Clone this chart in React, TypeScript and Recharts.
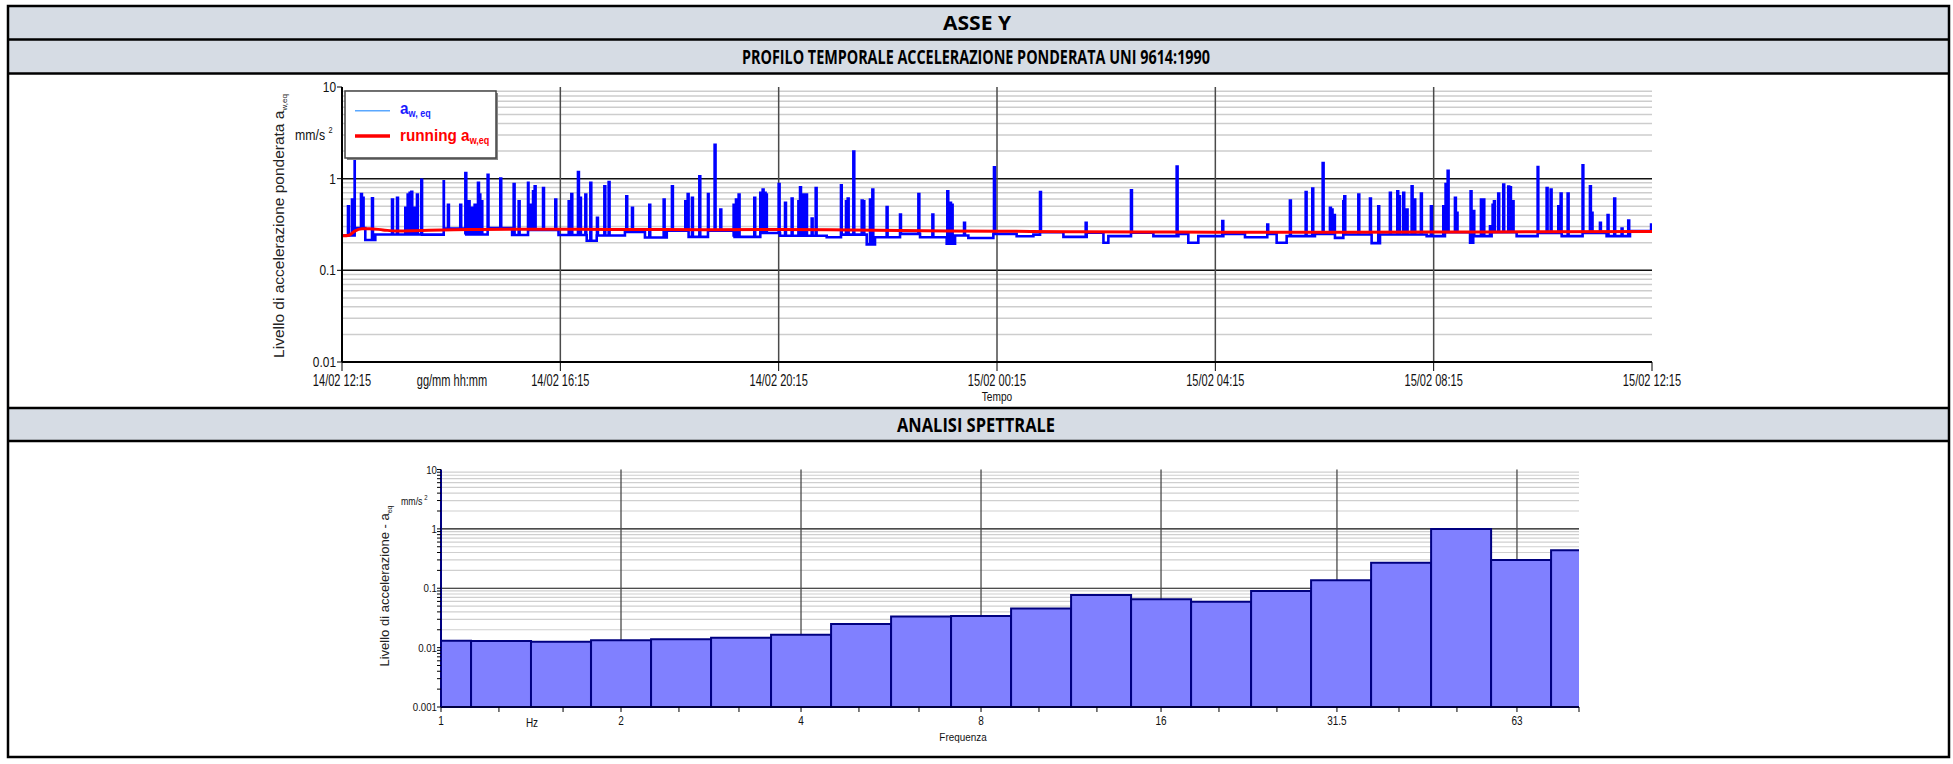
import React from 'react';
import { LineChart, Line, XAxis, YAxis, CartesianGrid, BarChart, Bar } from 'recharts';

const FONT = '"Liberation Sans", Arial, sans-serif';
const HFONT = '"Open Sans", "Noto Sans", sans-serif';

// ---------------- time profile (minutes from 14/02 12:15) ----------------
const timeTicks = [0, 240, 480, 720, 960, 1200, 1440];
const timeTickLabels = ['14/02 12:15', '14/02 16:15', '14/02 20:15', '15/02 00:15', '15/02 04:15', '15/02 08:15', '15/02 12:15'];

const awBaseLevels: [number, number][] = [
  [0, 0.24], [14, 0.29], [25.6, 0.214], [36.6, 0.246], [88, 0.245], [112, 0.285], [135.6, 0.246],
  [161, 0.29], [187, 0.243], [205, 0.275], [238, 0.243], [269, 0.21], [280, 0.24], [311, 0.262],
  [333, 0.228], [357, 0.27], [381, 0.232], [403, 0.27], [430.5, 0.232], [460, 0.255], [481.5, 0.238],
  [532.8, 0.23], [549.3, 0.245], [576.8, 0.192], [585.9, 0.23], [613.4, 0.25], [635.4, 0.23],
  [664.7, 0.195], [673.9, 0.24], [688.5, 0.225], [716, 0.25], [741.6, 0.235], [760, 0.245],
  [767.3, 0.26], [793, 0.232], [818.6, 0.257], [837, 0.2], [842.4, 0.236], [867.3, 0.257],
  [891.9, 0.236], [919.4, 0.25], [930.3, 0.2], [941.3, 0.236], [968.8, 0.25], [992.6, 0.23],
  [1017.1, 0.25], [1027.4, 0.2], [1038.4, 0.236], [1069.5, 0.25], [1091.5, 0.226], [1100.7, 0.246],
  [1131.8, 0.198], [1141, 0.246], [1192.3, 0.236], [1212.4, 0.26], [1240, 0.2], [1243.5, 0.236],
  [1263.7, 0.26], [1291.2, 0.236], [1315, 0.255], [1340.7, 0.236], [1364.5, 0.255], [1390.1, 0.236],
  [1415.8, 0.268],
];

const awSpikes: [number, number][] = [
  [6.6, 0.5], [11, 0.59], [13.9, 1.68], [20.9, 0.68], [22.7, 0.62], [33, 0.61], [55, 0.59], [60.5, 0.62],
  [69.6, 0.48], [72.2, 0.67], [74.4, 0.7], [76.2, 0.72], [78.8, 0.48], [82.4, 0.67], [87.2, 0.975],
  [111.8, 0.935], [116.5, 0.52], [130, 0.52], [135.6, 1.15], [139.2, 0.567], [142.9, 0.48], [145.8, 0.52],
  [149.5, 0.9], [151, 0.67], [153.2, 0.567], [160.1, 1.105], [174, 1.0], [188.7, 0.875], [194.2, 0.567],
  [204.5, 0.9], [207, 0.52], [210, 0.73], [211.8, 0.826], [221, 0.79], [234.5, 0.59], [249.2, 0.567],
  [252.1, 0.68], [259.4, 1.18], [261.6, 0.62], [267.5, 0.67], [273, 0.9], [280.3, 0.374], [288.4, 0.826],
  [293.1, 0.92], [312.5, 0.643], [318.8, 0.48], [337.8, 0.52], [353.6, 0.59], [362.7, 0.826], [377.4, 0.567],
  [380, 0.68], [384.7, 0.617], [392.8, 1.06], [402.3, 0.68], [409.6, 2.34], [415.9, 0.46], [430.5, 0.52],
  [433.1, 0.59], [436, 0.67], [453.2, 0.617], [459.8, 0.7], [462.4, 0.759], [464.6, 0.7], [466, 0.67],
  [480, 0.875], [487, 0.544], [494.3, 0.606], [501.7, 0.567], [503.5, 0.805], [505.3, 0.577], [507.1, 0.67],
  [510.1, 0.67], [516.3, 0.367], [520.7, 0.792], [548.5, 0.846], [554, 0.567], [555.9, 0.606], [562.1, 1.98],
  [571.3, 0.577], [573.1, 0.567], [580.4, 0.59], [583, 0.759], [598.7, 0.49], [613.4, 0.406], [633.6, 0.681],
  [649, 0.406], [665.4, 0.728], [668.4, 0.544], [670.2, 0.52], [683.8, 0.33], [716.7, 1.33], [767.3, 0.716],
  [817.5, 0.33], [867.3, 0.747], [917.5, 1.36], [967.7, 0.344], [1017.1, 0.316], [1042, 0.577],
  [1059.3, 0.716], [1066.6, 0.778], [1078, 1.48], [1086, 0.48], [1087.8, 0.46], [1090.4, 0.4],
  [1100.7, 0.567], [1101.8, 0.643], [1117.2, 0.67], [1130, 0.606], [1139.1, 0.5], [1151.9, 0.699],
  [1160, 0.728], [1161.9, 0.643], [1166.6, 0.699], [1170.3, 0.46], [1175.8, 0.826], [1178.7, 0.59],
  [1186, 0.687], [1197, 0.5], [1210.6, 0.5], [1213.1, 0.875], [1215.4, 1.22], [1223.4, 0.617],
  [1225.2, 0.424], [1240.6, 0.728], [1243.6, 0.442], [1252, 0.59], [1254.6, 0.59], [1261.9, 0.303],
  [1264.8, 0.52], [1266.3, 0.567], [1271, 0.687], [1276.5, 0.861], [1282, 0.819], [1283.9, 0.805],
  [1286.8, 0.567], [1314.3, 1.34], [1324.2, 0.792], [1328.6, 0.759], [1337, 0.5], [1339.6, 0.687],
  [1347.3, 0.687], [1363.7, 1.4], [1371.8, 0.826], [1373.6, 0.424], [1382.8, 0.33], [1391.2, 0.4],
  [1398.5, 0.606], [1406.6, 0.286], [1413.9, 0.35], [1439, 0.316],
];

const runningAw: [number, number][] = [
  [0, 0.238], [8, 0.242], [14, 0.268], [22, 0.284], [30, 0.285], [45, 0.276], [60, 0.268], [80, 0.27],
  [110, 0.276], [150, 0.279], [200, 0.281], [260, 0.28], [330, 0.279], [400, 0.278], [480, 0.279],
  [560, 0.275], [640, 0.27], [720, 0.267], [800, 0.264], [880, 0.262], [960, 0.261], [1080, 0.261],
  [1200, 0.262], [1320, 0.263], [1440, 0.266],
];

const levelTicks = [0.01, 0.1, 1, 10];
const levelMajor = [0.1, 1];
const levelMinor = [0.02, 0.03, 0.04, 0.05, 0.06, 0.07, 0.08, 0.09, 0.2, 0.3, 0.4, 0.5, 0.6, 0.7, 0.8, 0.9, 2, 3, 4, 5, 6, 7, 8, 9];

// ---------------- spectrum (third-octave bands) ----------------
const bandCenters = [1, 1.26, 1.587, 2, 2.52, 3.175, 4, 5.04, 6.35, 8, 10.08, 12.7, 16, 20.16, 25.4, 32, 40.32, 50.8, 64, 80.63];
const spectrumLevels = [0.0131, 0.01295, 0.0126, 0.01334, 0.01384, 0.01473, 0.01655, 0.0251, 0.0333, 0.0342, 0.0454, 0.0771, 0.0653, 0.0594, 0.09, 0.136, 0.27, 0.995, 0.3, 0.436];
const freqLabelTicks = [1, 2, 4, 8, 16, 31.5, 63];
const freqAllTicks = [1, 1.25, 1.6, 2, 2.5, 3.15, 4, 5, 6.3, 8, 10, 12.5, 16, 20, 25, 31.5, 40, 50, 63, 80];
const specYLabelTicks = [0.001, 0.01, 0.1, 1, 10];
const specYAllTicks = [0.001, 0.002, 0.003, 0.004, 0.005, 0.006, 0.007, 0.008, 0.009, 0.01, 0.02, 0.03, 0.04, 0.05, 0.06, 0.07, 0.08, 0.09, 0.1, 0.2, 0.3, 0.4, 0.5, 0.6, 0.7, 0.8, 0.9, 1, 2, 3, 4, 5, 6, 7, 8, 9, 10];
const specMinor = specYAllTicks.filter((v) => !specYLabelTicks.includes(v));
const specMajor = [0.01, 0.1, 1];
const specVertical = [2, 4, 8, 16, 31.5, 63];

// ---------------- build tables ----------------
const baseAt = (t: number) => {
  let v = awBaseLevels[0][1];
  for (const [s, val] of awBaseLevels) if (s <= t) v = val;
  return v;
};

type Pt = { t: number; aw?: number; run?: number; o: number };
const profileData: Pt[] = [
  ...awBaseLevels.map(([t, v]) => ({ t, aw: v, o: 0 })),
  ...awSpikes.flatMap(([t, v]) => [
    { t, aw: v, o: 1 },
    { t: Math.min(t + 1, 1440), aw: baseAt(t + 1), o: 2 },
  ]),
  { t: 1440, aw: baseAt(1440), o: 4 },
  ...runningAw.map(([t, v]) => ({ t, run: v, o: 3 })),
].sort((a, b) => a.t - b.t || a.o - b.o);

const spectrumData = bandCenters.map((f, i) => ({ f, level: spectrumLevels[i] }));

// ---------------- ticks ----------------
const TimeTick = (p: any) => {
  const i = timeTicks.indexOf(p.payload.value);
  return (
    <g transform={`translate(${p.x},${p.y}) scale(0.69,1)`}>
      <text x={0} y={0} dy={12.7} textAnchor="middle" fontSize={16} fontFamily={FONT} fill="#111">
        {timeTickLabels[i]}
      </text>
    </g>
  );
};

const LevelTick = (p: any) => (
  <g transform={`translate(${p.x},${p.y}) scale(0.85,1)`}>
    <text x={0} y={0} dy={5} textAnchor="end" fontSize={14} fontFamily={FONT} fill="#111">
      {String(p.payload.value)}
    </text>
  </g>
);

const FreqTick = (p: any) => {
  const v = p.payload.value;
  if (!freqLabelTicks.includes(v)) return <g />;
  return (
    <g transform={`translate(${p.x},${p.y}) scale(0.8,1)`}>
      <text x={0} y={0} dy={11} textAnchor="middle" fontSize={12.5} fontFamily={FONT} fill="#111">
        {String(v)}
      </text>
    </g>
  );
};

const SpecYTick = (p: any) => {
  const v = p.payload.value;
  if (!specYLabelTicks.includes(v)) return <g />;
  return (
    <g transform={`translate(${p.x},${p.y}) scale(0.88,1)`}>
      <text x={0} y={0} dy={4} textAnchor="end" fontSize={11} fontFamily={FONT} fill="#111">
        {String(v)}
      </text>
    </g>
  );
};

// ---------------- charts ----------------
const ProfileChart = () => (
  <LineChart width={1953} height={320} data={profileData} margin={{ top: 11, right: 301, bottom: 4, left: 302 }}>
    <CartesianGrid horizontalValues={levelMinor} vertical={false} stroke="#cdcdcd" strokeWidth={1.5} />
    <CartesianGrid horizontalValues={levelMajor} vertical={false} stroke="#111" strokeWidth={1.5} />
    <CartesianGrid verticalValues={timeTicks.slice(1, -1)} horizontal={false} stroke="#4a4a4a" strokeWidth={1.5} />
    <Line dataKey="aw" type="stepAfter" stroke="#0000ff" strokeWidth={2.6} dot={false} connectNulls isAnimationActive={false} />
    <Line dataKey="run" type="monotone" stroke="#ff0000" strokeWidth={3} dot={false} connectNulls isAnimationActive={false} />
    <XAxis
      dataKey="t"
      type="number"
      domain={[0, 1440]}
      allowDataOverflow
      ticks={timeTicks}
      interval={0}
      tick={<TimeTick />}
      tickSize={9}
      tickMargin={2}
      height={30}
      axisLine={{ stroke: '#000', strokeWidth: 2 }}
      tickLine={{ stroke: '#000', strokeWidth: 1 }}
    />
    <XAxis xAxisId="top" orientation="top" type="number" domain={[0, 1440]} tick={false} tickLine={false} height={0} axisLine={{ stroke: '#222', strokeWidth: 2 }} />
    <YAxis
      type="number"
      scale="log"
      domain={[0.01, 10]}
      allowDataOverflow
      ticks={levelTicks}
      interval={0}
      tick={<LevelTick />}
      tickSize={5}
      tickMargin={1}
      width={40}
      axisLine={{ stroke: '#000', strokeWidth: 2 }}
      tickLine={{ stroke: '#000', strokeWidth: 1 }}
    />
    <YAxis yAxisId="right" orientation="right" type="number" scale="log" domain={[0.01, 10]} allowDataOverflow tick={false} tickLine={false} width={0} axisLine={{ stroke: '#222', strokeWidth: 2 }} />
  </LineChart>
);

const SpectrumChart = () => (
  <BarChart width={1953} height={300} data={spectrumData} margin={{ top: 28.5, right: 374, bottom: 4, left: 401 }} barCategoryGap={0} barGap={0}>
    <CartesianGrid horizontalValues={specMinor} vertical={false} stroke="#cfcfcf" strokeWidth={1.2} />
    <CartesianGrid horizontalValues={specMajor} vertical={false} stroke="#111" strokeWidth={1.2} />
    <CartesianGrid verticalValues={specVertical} horizontal={false} stroke="#4a4a4a" strokeWidth={1.3} />
    <Bar dataKey="level" fill="#8080ff" stroke="#000080" strokeWidth={2} isAnimationActive={false} />
    <XAxis
      dataKey="f"
      type="number"
      scale="log"
      domain={[1, 80]}
      allowDataOverflow
      ticks={freqAllTicks}
      interval={0}
      tick={<FreqTick />}
      tickSize={5}
      tickMargin={2}
      height={30}
      axisLine={{ stroke: '#000040', strokeWidth: 2 }}
      tickLine={{ stroke: '#000', strokeWidth: 1 }}
    />
    <XAxis xAxisId="top" orientation="top" type="number" scale="log" domain={[1, 80]} allowDataOverflow tick={false} tickLine={false} height={0} axisLine={{ stroke: '#000080', strokeWidth: 2 }} />
    <YAxis
      type="number"
      scale="log"
      domain={[0.001, 10]}
      allowDataOverflow
      ticks={specYAllTicks}
      interval={0}
      tick={<SpecYTick />}
      tickSize={4}
      tickMargin={0}
      width={40}
      axisLine={{ stroke: '#000080', strokeWidth: 2 }}
      tickLine={{ stroke: '#000', strokeWidth: 1 }}
    />
    <YAxis yAxisId="right" orientation="right" type="number" scale="log" domain={[0.001, 10]} allowDataOverflow tick={false} tickLine={false} width={0} axisLine={{ stroke: '#000080', strokeWidth: 2 }} />
  </BarChart>
);

// ---------------- frame, headers, labels ----------------
const Overlay = () => (
  <svg width={1953} height={764} style={{ position: 'absolute', left: 0, top: 0, pointerEvents: 'none' }}>
    <rect x={8} y={6} width={1941} height={33.5} fill="#D6DCE4" />
    <rect x={8} y={39.5} width={1941} height={34} fill="#D6DCE4" />
    <rect x={8} y={408} width={1941} height={33} fill="#D6DCE4" />
    <g stroke="#000" strokeWidth={2.5}>
      <line x1={8} y1={39.5} x2={1949} y2={39.5} />
      <line x1={8} y1={73.5} x2={1949} y2={73.5} />
      <line x1={8} y1={408} x2={1949} y2={408} />
      <line x1={8} y1={441} x2={1949} y2={441} />
      <rect x={8} y={6} width={1941} height={751} fill="none" />
    </g>
    <g fontFamily={HFONT} fontWeight="bold" fill="#000" fontSize={19.5} textAnchor="middle">
      <text x={977} y={29.5} textLength={68} lengthAdjust="spacingAndGlyphs">ASSE Y</text>
      <text x={976} y={63.5} textLength={468} lengthAdjust="spacingAndGlyphs">PROFILO TEMPORALE ACCELERAZIONE PONDERATA UNI 9614:1990</text>
      <text x={976} y={431.5} textLength={158} lengthAdjust="spacingAndGlyphs">ANALISI SPETTRALE</text>
    </g>

    {/* profile chart labels */}
    <text transform="translate(284,226) rotate(-90)" textAnchor="middle" fontSize={15.5} fontFamily={FONT} fill="#222">
      Livello di accelerazione ponderata a<tspan fontSize={8} dy={3}>w,eq</tspan>
    </text>
    <g transform="translate(295,140) scale(0.82,1)" fontFamily={FONT} fill="#111">
      <text x={0} y={0} fontSize={15}>mm/s</text>
      <text x={41} y={-7} fontSize={9}>2</text>
    </g>
    <g transform="translate(452,373) scale(0.69,1)">
      <text x={0} y={0} dy={12.7} textAnchor="middle" fontSize={16} fontFamily={FONT} fill="#111">gg/mm hh:mm</text>
    </g>
    <g transform="translate(997,400.5) scale(0.78,1)">
      <text x={0} y={0} textAnchor="middle" fontSize={13} fontFamily={FONT} fill="#111">Tempo</text>
    </g>

    {/* legend */}
    <rect x={347} y={93} width={151} height={67} fill="#888" />
    <rect x={345} y={91} width={151} height={67} fill="#fff" stroke="#444" strokeWidth={1.5} />
    <line x1={355} y1={110.7} x2={390} y2={110.7} stroke="#5aa8ff" strokeWidth={1.5} />
    <line x1={355} y1={136} x2={390} y2={136} stroke="#ff0000" strokeWidth={3.5} />
    <g transform="translate(400,114) scale(0.9,1)" fontFamily={FONT} fontWeight="bold" fill="#1a1aff">
      <text x={0} y={0} fontSize={17}>a<tspan fontSize={10} dy={3}>w, eq</tspan></text>
    </g>
    <g transform="translate(400,141) scale(0.9,1)" fontFamily={FONT} fontWeight="bold" fill="#ff0000">
      <text x={0} y={0} fontSize={17}>running a<tspan fontSize={10} dy={3}>w,eq</tspan></text>
    </g>

    {/* spectrum chart labels */}
    <text transform="translate(389,586) rotate(-90)" textAnchor="middle" fontSize={13} fontFamily={FONT} fill="#222">
      Livello di accelerazione - a<tspan fontSize={7} dy={3}>eq</tspan>
    </text>
    <g transform="translate(401,505) scale(0.8,1)" fontFamily={FONT} fill="#111">
      <text x={0} y={0} fontSize={11}>mm/s</text>
      <text x={29} y={-5} fontSize={7.5}>2</text>
    </g>
    <g transform="translate(532,727) scale(0.8,1)">
      <text x={0} y={0} textAnchor="middle" fontSize={12.5} fontFamily={FONT} fill="#111">Hz</text>
    </g>
    <g transform="translate(963,741) scale(0.9,1)">
      <text x={0} y={0} textAnchor="middle" fontSize={11} fontFamily={FONT} fill="#111">Frequenza</text>
    </g>
  </svg>
);

export default function App() {
  return (
    <div style={{ position: 'absolute', left: 0, top: 0, width: 1953, height: 764, background: '#fff', overflow: 'hidden' }}>
      <div style={{ position: 'absolute', left: 0, top: 76 }}>
        <ProfileChart />
      </div>
      <div style={{ position: 'absolute', left: 0, top: 441 }}>
        <SpectrumChart />
      </div>
      <Overlay />
    </div>
  );
}
